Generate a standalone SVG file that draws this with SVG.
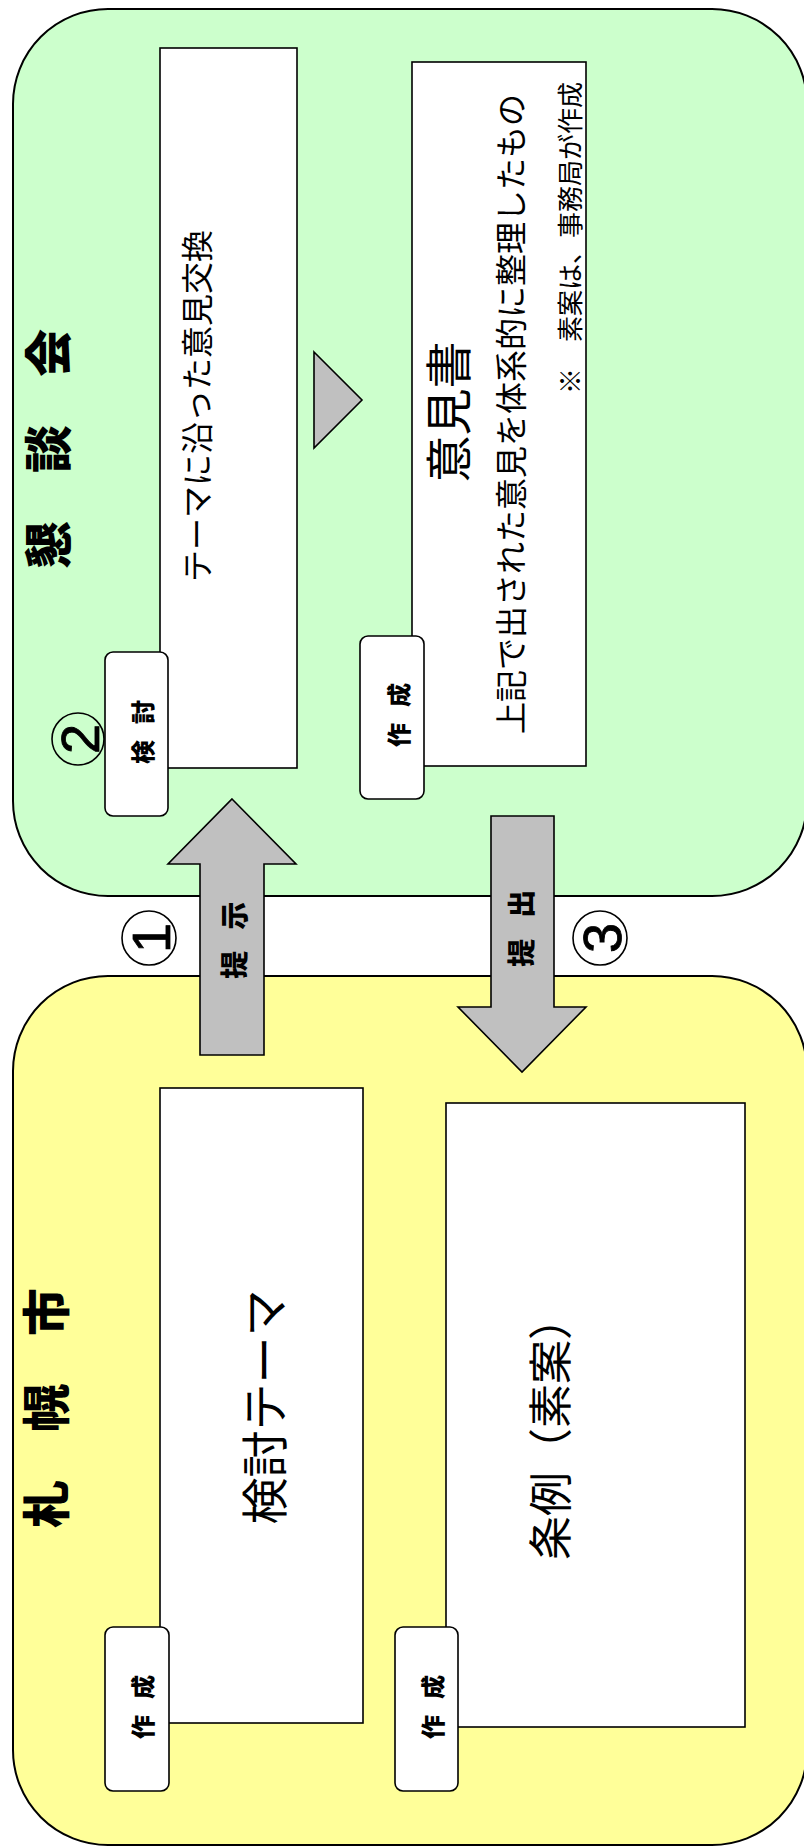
<svg xmlns="http://www.w3.org/2000/svg" width="804" height="1847" viewBox="0 0 804 1847">
<style>
.panel{stroke:#000;stroke-width:2}
.box{fill:#fff;stroke:#000;stroke-width:1.6}
.tag{fill:#fff;stroke:#000;stroke-width:1.6}
.arrow{fill:#c0c0c0;stroke:#000;stroke-width:1.6;stroke-linejoin:miter}
.ring{fill:none;stroke:#000;stroke-width:1.6}
text{font-family:"Noto Sans CJK JP","Noto Sans CJK SC",sans-serif;fill:#000;dominant-baseline:central;text-anchor:middle}
.b{font-weight:900}
.t{font-weight:900;font-size:24px;letter-spacing:-4px}
.digit{font-family:"Liberation Sans","DejaVu Sans",sans-serif;font-weight:400;font-size:54px;stroke:#000;stroke-width:0.8}
</style>
<rect width="804" height="1847" fill="#fff"/>
<g id="kondankai">
<rect class="panel" x="13" y="9" width="794" height="887" rx="95" ry="95" fill="#ccffcc"/>
<text class="b" font-size="48" transform="translate(45,449) rotate(-90)">懇　談　会</text>
</g>
<g id="sapporo">
<rect class="panel" x="13" y="976" width="794" height="869" rx="95" ry="95" fill="#ffff99"/>
<text class="b" font-size="48" transform="translate(43,1408) rotate(-90)">札　幌　市</text>
</g>
<g id="iken-koukan">
<rect class="box" x="160" y="48" width="137" height="720"/>
<text font-size="32" transform="translate(195,406) rotate(-90)">テーマに沿った意見交換</text>
</g>
<g id="ikensho">
<rect class="box" x="412" y="62" width="174" height="704"/>
<text font-size="47" transform="translate(445,412) rotate(-90)">意見書</text>
<text font-size="32" transform="translate(509,414) rotate(-90)">上記で出された意見を体系的に整理したもの</text>
<text font-size="26" style="text-anchor:end" transform="translate(568,82) rotate(-90)">※　素案は、事務局が作成</text>
</g>
<g id="kentou-theme">
<rect class="box" x="160" y="1088" width="203" height="635"/>
<text font-size="47" transform="translate(261,1407) rotate(-90)">検討テーマ</text>
</g>
<g id="jourei">
<rect class="box" x="446" y="1103" width="299" height="624"/>
<text font-size="44" transform="translate(548,1428) rotate(-90)">条例（素案）</text>
</g>
<g id="tag-kentou">
<rect class="tag" x="105" y="652" width="63" height="164" rx="8"/>
<text class="t" transform="translate(141,734) rotate(-90)">検　討</text>
</g>
<g id="tag-sakusei-1">
<rect class="tag" x="360" y="636" width="64" height="163" rx="8"/>
<text class="t" transform="translate(397,717) rotate(-90)">作　成</text>
</g>
<g id="tag-sakusei-2">
<rect class="tag" x="105" y="1627" width="64" height="164" rx="8"/>
<text class="t" transform="translate(141,1709) rotate(-90)">作　成</text>
</g>
<g id="tag-sakusei-3">
<rect class="tag" x="395" y="1627" width="63" height="164" rx="8"/>
<text class="t" transform="translate(431,1709) rotate(-90)">作　成</text>
</g>
<g id="connectors">
<polygon class="arrow" points="314,352 362,400 314,448"/>
<polygon class="arrow" points="232,799 296,864 264,864 264,1055 200,1055 200,864 168,864"/>
<text class="b" font-size="28" letter-spacing="-3.5" transform="translate(233,942) rotate(-90)">提　示</text>
<polygon class="arrow" points="491,816 554,816 554,1007 586,1007 522,1072 458,1007 491,1007"/>
<text class="b" font-size="28" letter-spacing="-3.5" transform="translate(520,930) rotate(-90)">提　出</text>
</g>
<g id="step-1">
<ellipse class="ring" cx="149" cy="938" rx="27" ry="27"/>
<text class="digit" transform="translate(151,938) rotate(-90)">1</text>
</g>
<g id="step-2">
<ellipse class="ring" cx="78" cy="739" rx="26" ry="26"/>
<text class="digit" transform="translate(80,739) rotate(-90)">2</text>
</g>
<g id="step-3">
<ellipse class="ring" cx="600" cy="938" rx="27" ry="27"/>
<text class="digit" transform="translate(602,938) rotate(-90)">3</text>
</g>
</svg>
